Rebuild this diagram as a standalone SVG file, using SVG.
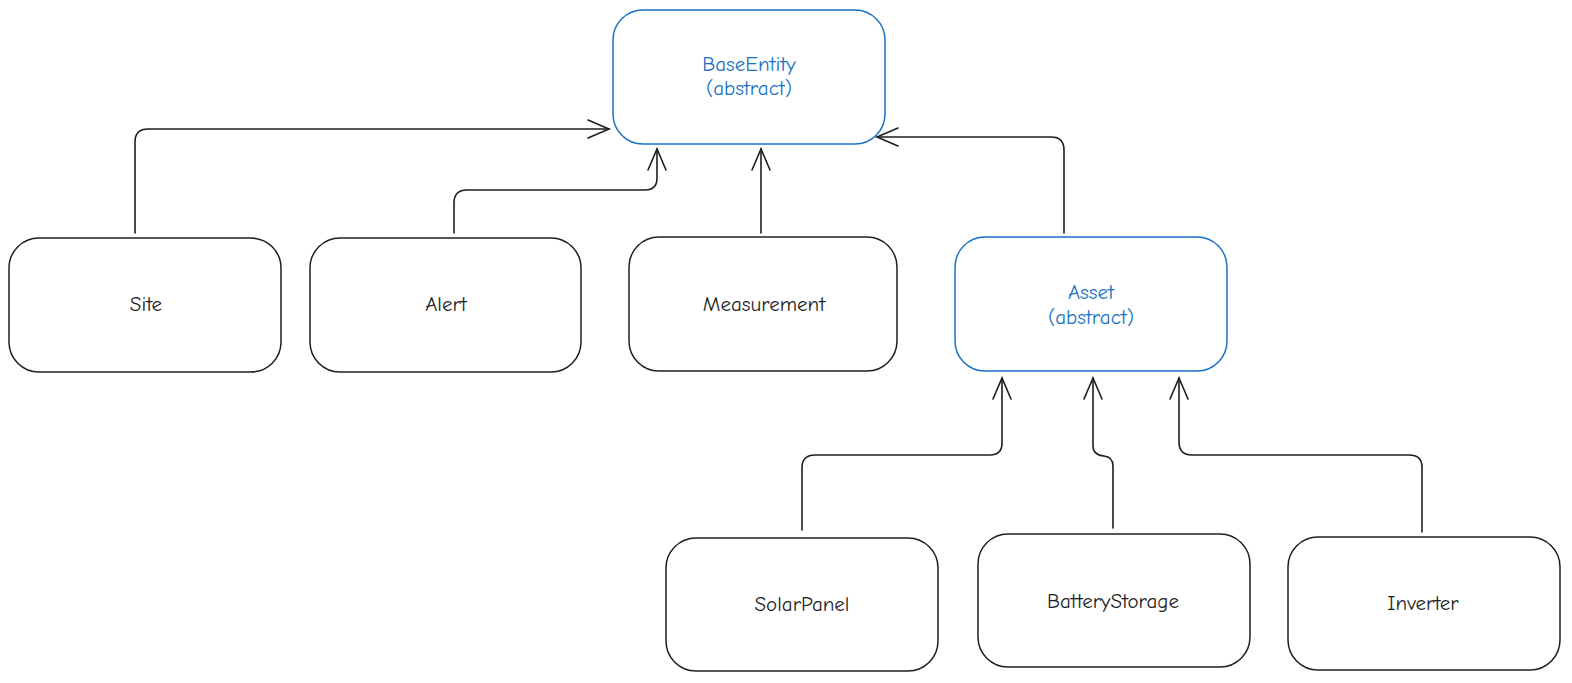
<svg xmlns="http://www.w3.org/2000/svg" width="1572" height="683" viewBox="0 0 1572 683">
<defs>
<style>
.box{fill:#ffffff;stroke:#1e1e1e;stroke-width:1.5}
.abs{fill:#ffffff;stroke:#1971c2;stroke-width:1.5}
.t{font-family:"Comic Neue","Liberation Sans",sans-serif;font-size:21px;fill:#1e1e1e;text-anchor:middle;dominant-baseline:central}
.tb{fill:#1971c2}
.c{fill:none;stroke:#1e1e1e;stroke-width:1.6;stroke-linecap:round;stroke-linejoin:round}
</style>
<marker id="ah" viewBox="-22 -11 24 22" markerWidth="24" markerHeight="22" refX="0" refY="0" orient="auto" markerUnits="userSpaceOnUse">
<path d="M-21,-9 L0,0 L-21,9" fill="none" stroke="#1e1e1e" stroke-width="1.6" stroke-linecap="round"/>
</marker>
</defs>
<rect width="1572" height="683" fill="#ffffff"/>
<g id="connectors">
<path class="c" marker-end="url(#ah)" d="M135,233 L135,142 Q135,129 148,129 L609,129"/>
<path class="c" marker-end="url(#ah)" d="M454,233 L454,203 Q454,190 467,190 L645,190 Q657,190 657,178 L657,149"/>
<path class="c" marker-end="url(#ah)" d="M761,233 L761,149"/>
<path class="c" marker-end="url(#ah)" d="M1064,233 L1064,150 Q1064,137 1051,137 L877,137"/>
<path class="c" marker-end="url(#ah)" d="M802,530 L802,468 Q802,455 815,455 L990,455 Q1002,455 1002,443 L1002,378"/>
<path class="c" marker-end="url(#ah)" d="M1113,528 L1113,466 Q1113,457 1104,456 Q1093,455 1093,446 L1093,378"/>
<path class="c" marker-end="url(#ah)" d="M1422,532 L1422,467 Q1422,455 1409,455 L1192,455 Q1179,455 1179,442 L1179,378"/>
</g>
<g id="BaseEntity">
<rect class="abs" x="613" y="10" width="272" height="134" rx="30"/>
<text class="t tb" x="749" y="64">BaseEntity</text>
<text class="t tb" x="749" y="88">(abstract)</text>
</g>
<g id="Site">
<rect class="box" x="9" y="238" width="272" height="134" rx="30"/>
<text class="t" x="146" y="304">Site</text>
</g>
<g id="Alert">
<rect class="box" x="310" y="238" width="271" height="134" rx="30"/>
<text class="t" x="446" y="304">Alert</text>
</g>
<g id="Measurement">
<rect class="box" x="629" y="237" width="268" height="134" rx="30"/>
<text class="t" x="764" y="304">Measurement</text>
</g>
<g id="Asset">
<rect class="abs" x="955" y="237" width="272" height="134" rx="30"/>
<text class="t tb" x="1091" y="292">Asset</text>
<text class="t tb" x="1091" y="317">(abstract)</text>
</g>
<g id="SolarPanel">
<rect class="box" x="666" y="538" width="272" height="133" rx="30"/>
<text class="t" x="802" y="604">SolarPanel</text>
</g>
<g id="BatteryStorage">
<rect class="box" x="978" y="534" width="272" height="133" rx="30"/>
<text class="t" x="1113" y="601">BatteryStorage</text>
</g>
<g id="Inverter">
<rect class="box" x="1288" y="537" width="272" height="133" rx="30"/>
<text class="t" x="1423" y="603">Inverter</text>
</g>
</svg>
